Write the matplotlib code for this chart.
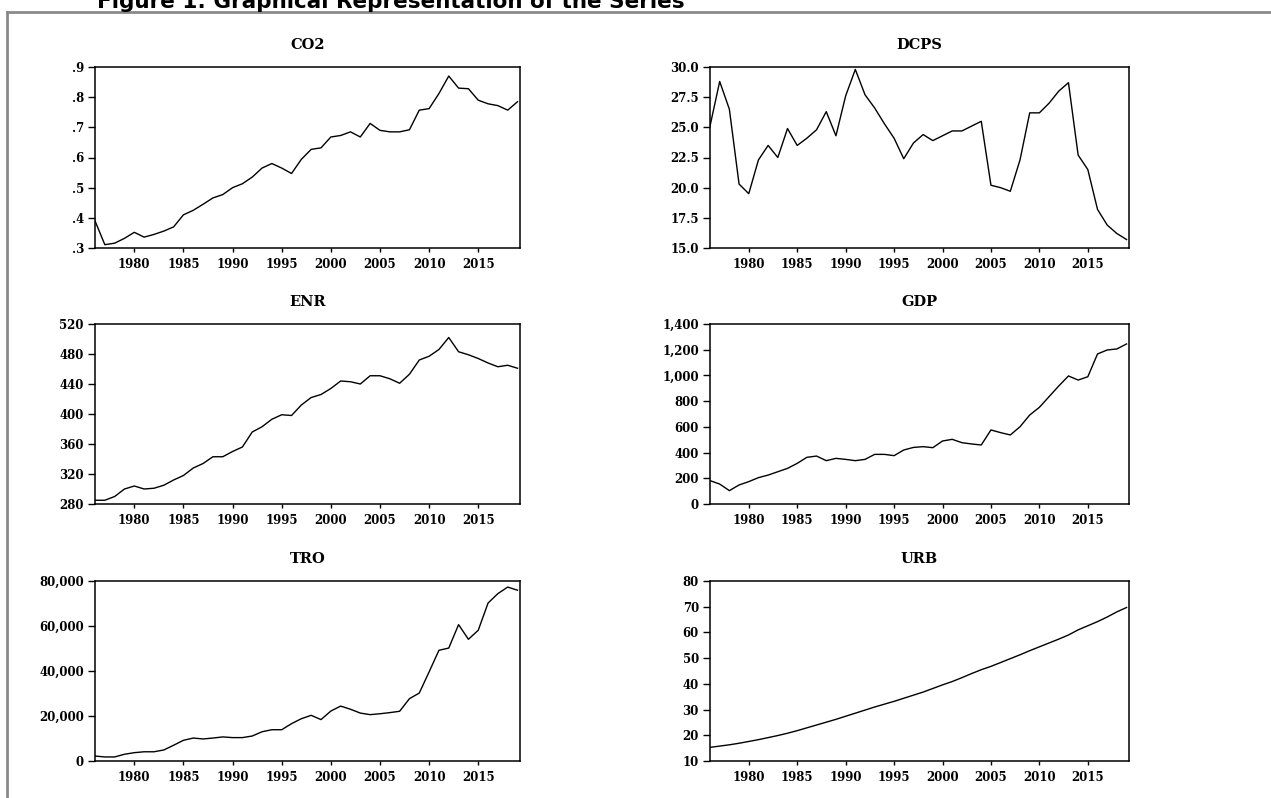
#graphical representation of the series, EViews style panels
import matplotlib
matplotlib.use('Agg')
import matplotlib.pyplot as plt
from matplotlib.lines import Line2D
from matplotlib.ticker import FuncFormatter

years = list(range(1976, 2020))

co2 = [0.39, 0.311, 0.316, 0.332, 0.352, 0.336, 0.345, 0.356, 0.37, 0.41,
       0.425, 0.445, 0.466, 0.477, 0.50, 0.513, 0.535, 0.565, 0.58, 0.565,
       0.547, 0.594, 0.627, 0.632, 0.668, 0.673, 0.685, 0.668, 0.713, 0.69,
       0.685, 0.685, 0.692, 0.757, 0.762, 0.812, 0.87, 0.83, 0.828, 0.79,
       0.778, 0.772, 0.757, 0.785]

dcps = [25.1, 28.8, 26.5, 20.3, 19.5, 22.3, 23.5, 22.5, 24.9, 23.5,
        24.1, 24.8, 26.3, 24.3, 27.6, 29.8, 27.7, 26.6, 25.3, 24.1,
        22.4, 23.7, 24.4, 23.9, 24.3, 24.7, 24.7, 25.1, 25.5, 20.2,
        20.0, 19.7, 22.3, 26.2, 26.2, 27.0, 28.0, 28.7, 22.7, 21.5,
        18.2, 16.9, 16.2, 15.7]

enr = [285, 285, 290, 300, 304, 300, 301, 305, 312, 318,
       328, 334, 343, 343, 350, 356, 376, 383, 393, 399,
       398, 412, 422, 426, 434, 444, 443, 440, 451, 451,
       447, 441, 453, 472, 477, 486, 502, 483, 479, 474,
       468, 463, 465, 461]

gdp = [182, 155, 104, 148, 174, 205, 225, 251, 277, 316,
       363, 373, 337, 355, 347, 337, 347, 386, 386, 376,
       420, 440, 446, 438, 490, 503, 477, 467, 459, 576,
       555, 537, 601, 692, 752, 835, 918, 996, 964, 990,
       1167, 1198, 1206, 1245]

tro = [2200, 1800, 1800, 3000, 3700, 4100, 4100, 4900, 7000, 9200,
       10200, 9800, 10200, 10700, 10400, 10400, 11100, 13000, 13900, 13900,
       16600, 18800, 20300, 18400, 22200, 24400, 23000, 21300, 20600, 21000,
       21500, 22100, 27700, 30200, 39600, 49200, 50200, 60600, 54100, 58100,
       70200, 74400, 77300, 75900]

urb = [15.3, 15.8, 16.3, 16.9, 17.6, 18.3, 19.1, 19.9, 20.8, 21.8,
       22.9, 24.0, 25.1, 26.2, 27.4, 28.6, 29.8, 31.0, 32.1, 33.2,
       34.4, 35.6, 36.8, 38.2, 39.6, 40.9, 42.4, 44.0, 45.5, 46.8,
       48.3, 49.8, 51.3, 52.9, 54.4, 55.9, 57.4, 59.0, 61.0, 62.6,
       64.2, 66.0, 68.0, 69.7]

names = ['CO2', 'DCPS', 'ENR', 'GDP', 'TRO', 'URB']
series = [co2, dcps, enr, gdp, tro, urb]
ylims = [(0.3, 0.9), (15, 30), (280, 520), (0, 1400), (0, 80000), (10, 80)]
ysteps = [0.1, 2.5, 40, 200, 20000, 10]
xticks = [1980, 1985, 1990, 1995, 2000, 2005, 2010, 2015]

def fmt_co2(v, p):
    return ('%.1f' % v).lstrip('0')

formatters = [FuncFormatter(fmt_co2),
              FuncFormatter(lambda v, p: '%.1f' % v),
              FuncFormatter(lambda v, p: '%d' % round(v)),
              FuncFormatter(lambda v, p: '{:,}'.format(int(round(v)))),
              FuncFormatter(lambda v, p: '{:,}'.format(int(round(v)))),
              FuncFormatter(lambda v, p: '%d' % round(v))]

W, H = 1271, 798
fig = plt.figure(figsize=(W / 100, H / 100), dpi=100)

# axes boxes in pixels: left, right, top, bottom
lefts = [95, 710]
rights = [520, 1129]
rows = [(67, 248), (324, 504), (581, 761)]

tickfont = dict(family='DejaVu Serif', weight='bold', size=8.5)

for i, name in enumerate(names):
    r, c = divmod(i, 2)
    l, rr = lefts[c], rights[c]
    t, b = rows[r]
    ax = fig.add_axes([l / W, 1 - b / H, (rr - l) / W, (b - t) / H])
    ax.plot(years, series[i], color='black', lw=1.0)
    ax.set_xlim(1976, 2019.25)
    lo, hi = ylims[i]
    ax.set_ylim(lo, hi)
    n = int(round((hi - lo) / ysteps[i]))
    ax.set_yticks([lo + k * ysteps[i] for k in range(n + 1)])
    ax.yaxis.set_major_formatter(formatters[i])
    ax.set_xticks(xticks)
    ax.tick_params(axis='y', direction='out', length=5, width=1, pad=3)
    ax.tick_params(axis='x', direction='out', length=3, width=1, pad=4)
    for lab in ax.get_xticklabels() + ax.get_yticklabels():
        lab.set_fontfamily(tickfont['family'])
        lab.set_fontweight(tickfont['weight'])
        lab.set_fontsize(tickfont['size'])
    for s in ax.spines.values():
        s.set_linewidth(1.1)
    ax.set_title(name, fontfamily='DejaVu Serif', fontweight='bold', fontsize=10.5, pad=13)

# gray frame round the figure
fig.add_artist(Line2D([7 / W, 1], [1 - 12 / H, 1 - 12 / H], color='#8a8a8a', lw=2))
fig.add_artist(Line2D([7 / W, 7 / W], [0, 1 - 12 / H], color='#8a8a8a', lw=2))

# heading, cut off at the top like the source
fig.text(97 / W, 1 - 8 / H, 'Figure 1: Graphical Representation of the Series',
         fontfamily='DejaVu Sans', fontweight='bold', fontsize=15.5, va='baseline', ha='left')

fig.savefig('out.png', dpi=100)
